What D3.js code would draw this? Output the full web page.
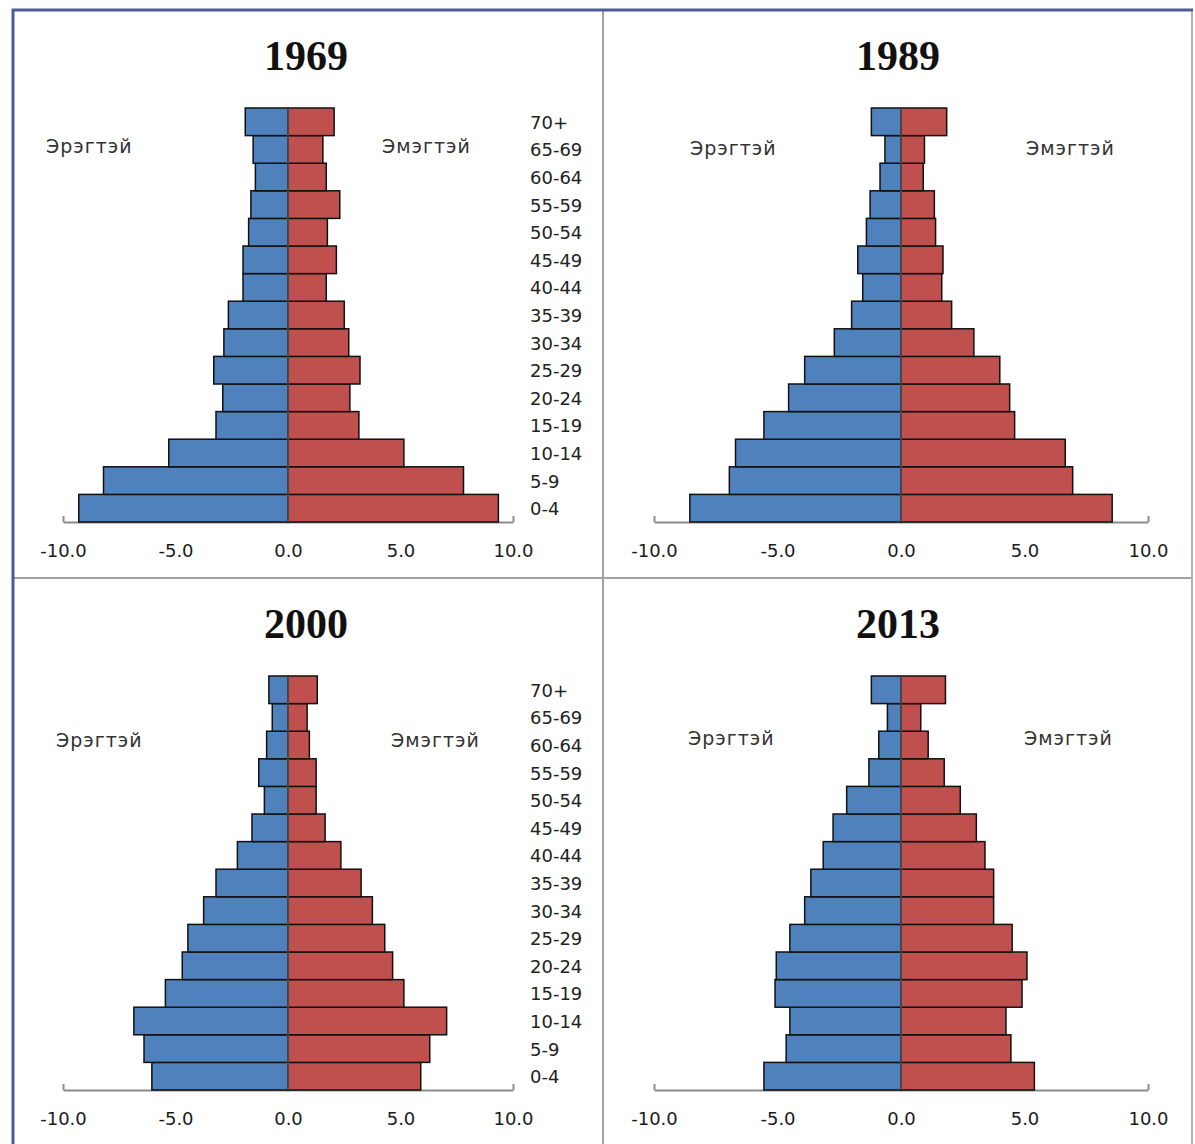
<!DOCTYPE html>
<html>
<head>
<meta charset="utf-8">
<script src="https://cdn.jsdelivr.net/npm/d3@7"></script>
<style>
  body { margin: 0; background: #fff; }
  svg { display: block; }
</style>
</head>
<body>
<div id="chart"></div>
<script>
var SVGWidth = 1195;
var SVGHeight = 1144;

// age groups, youngest first
var ages = ["0-4", "5-9", "10-14", "15-19", "20-24", "25-29", "30-34", "35-39",
            "40-44", "45-49", "50-54", "55-59", "60-64", "65-69", "70+"];

var tickValues = [-10, -5, 0, 5, 10];

// percent of population, same order as ages
var male1969   = [9.3, 8.2, 5.3, 3.2, 2.9, 3.3, 2.85, 2.65, 2.0, 2.0, 1.75, 1.65, 1.45, 1.55, 1.9];
var female1969 = [9.35, 7.8, 5.15, 3.15, 2.75, 3.2, 2.7, 2.5, 1.7, 2.15, 1.75, 2.3, 1.7, 1.55, 2.05];

var male1989   = [8.55, 6.95, 6.7, 5.55, 4.55, 3.9, 2.7, 2.0, 1.55, 1.75, 1.4, 1.25, 0.85, 0.65, 1.2];
var female1989 = [8.55, 6.95, 6.65, 4.6, 4.4, 4.0, 2.95, 2.05, 1.65, 1.7, 1.4, 1.35, 0.9, 0.95, 1.85];

var male2000   = [6.05, 6.4, 6.85, 5.45, 4.7, 4.45, 3.75, 3.2, 2.25, 1.6, 1.05, 1.3, 0.95, 0.7, 0.85];
var female2000 = [5.9, 6.3, 7.05, 5.15, 4.65, 4.3, 3.75, 3.25, 2.35, 1.65, 1.25, 1.25, 0.95, 0.85, 1.3];

var male2013   = [5.55, 4.65, 4.5, 5.1, 5.05, 4.5, 3.9, 3.65, 3.15, 2.75, 2.2, 1.3, 0.9, 0.55, 1.2];
var female2013 = [5.4, 4.45, 4.25, 4.9, 5.1, 4.5, 3.75, 3.75, 3.4, 3.05, 2.4, 1.75, 1.1, 0.8, 1.8];

var maleLabel = "Эрэгтэй";
var femaleLabel = "Эмэгтэй";

var MaleColor = "#4F81BD";
var FemaleColor = "#C0504D";

var svg = d3.select("#chart")
    .append("svg")
        .attr("width", SVGWidth)
        .attr("height", SVGHeight);

svg.append("rect")
    .attr("width", SVGWidth)
    .attr("height", SVGHeight)
    .attr("fill", "#fff");

// frame and dividers between the four panels
svg.append("line").attr("x1", 603).attr("x2", 603).attr("y1", 10).attr("y2", SVGHeight)
    .attr("stroke", "#a0a0a0").attr("stroke-width", 2);
svg.append("line").attr("x1", 13).attr("x2", 1192).attr("y1", 578).attr("y2", 578)
    .attr("stroke", "#a0a0a0").attr("stroke-width", 2);
svg.append("line").attr("x1", 1192).attr("x2", 1192).attr("y1", 10).attr("y2", SVGHeight)
    .attr("stroke", "#b0b0b0").attr("stroke-width", 2);
svg.append("line").attr("x1", 12).attr("x2", 1193).attr("y1", 10).attr("y2", 10)
    .attr("stroke", "#4a5a9c").attr("stroke-width", 3);
svg.append("line").attr("x1", 13).attr("x2", 13).attr("y1", 9).attr("y2", SVGHeight)
    .attr("stroke", "#4a5a9c").attr("stroke-width", 3);

/*
 * Draws one population pyramid.
 * p holds the panel layout: plot left/right, top/bottom, label places.
 */
function drawPyramid(p, year, male, female) {
    var g = svg.append("g");

    var x = d3.scaleLinear()
        .domain([-10, 10])
        .range([p.left, p.right]);

    var y = d3.scaleBand()
        .domain(ages.slice().reverse())
        .range([p.top, p.bottom])
        .padding(0);

    // title
    g.append("text")
        .attr("x", p.titleX)
        .attr("y", p.top - 38)
        .attr("text-anchor", "middle")
        .style("font-family", "'Liberation Serif', 'Times New Roman', serif")
        .style("font-weight", "bold")
        .style("font-size", "42px")
        .style("fill", "#111")
        .text(year);

    // bottom axis
    var axis = g.append("g")
        .attr("transform", "translate(0," + p.bottom + ")")
        .call(d3.axisBottom(x)
            .tickValues(tickValues)
            .tickSizeInner(-6)
            .tickSizeOuter(0)
            .tickPadding(22)
            .tickFormat(d3.format(".1f")));
    axis.select(".domain").attr("stroke", "#8c8c8c").attr("stroke-width", 2);
    axis.selectAll(".tick line").attr("stroke", "#8c8c8c").attr("stroke-width", 2);
    axis.selectAll(".tick text")
        .style("font-family", "'DejaVu Sans', sans-serif")
        .style("font-size", "18px")
        .style("fill", "#1a1a1a")
        .text(function(d) { return d3.format(".1f")(d).replace("−", "-"); });

    // male bars to the left
    g.selectAll(".male")
        .data(male)
        .enter()
        .append("rect")
            .attr("class", "male")
            .attr("x", function(d) { return x(-d); })
            .attr("y", function(d, i) { return y(ages[i]); })
            .attr("width", function(d) { return x(0) - x(-d); })
            .attr("height", y.bandwidth())
            .attr("fill", MaleColor)
            .attr("stroke", "#111")
            .attr("stroke-width", 1.5);

    // female bars to the right
    g.selectAll(".female")
        .data(female)
        .enter()
        .append("rect")
            .attr("class", "female")
            .attr("x", x(0))
            .attr("y", function(d, i) { return y(ages[i]); })
            .attr("width", function(d) { return x(d) - x(0); })
            .attr("height", y.bandwidth())
            .attr("fill", FemaleColor)
            .attr("stroke", "#111")
            .attr("stroke-width", 1.5);

    // zero line
    g.append("line")
        .attr("x1", x(0)).attr("x2", x(0))
        .attr("y1", p.top).attr("y2", p.bottom)
        .attr("stroke", "#555")
        .attr("stroke-width", 1.5);

    // sex labels
    g.append("text")
        .attr("x", p.maleX)
        .attr("y", p.sexY)
        .style("font-family", "'DejaVu Sans', sans-serif")
        .style("font-size", "19px")
        .style("letter-spacing", "1px")
        .style("fill", "#333")
        .text(maleLabel);
    g.append("text")
        .attr("x", p.femaleX)
        .attr("y", p.sexY)
        .style("font-family", "'DejaVu Sans', sans-serif")
        .style("font-size", "19px")
        .style("letter-spacing", "1px")
        .style("fill", "#333")
        .text(femaleLabel);

    // age group labels (left panels only)
    if (p.catX) {
        g.selectAll(".age")
            .data(ages)
            .enter()
            .append("text")
                .attr("class", "age")
                .attr("x", p.catX)
                .attr("y", function(d) { return y(d) + y.bandwidth() / 2 + 7; })
                .style("font-family", "'DejaVu Sans', sans-serif")
                .style("font-size", "18px")
                .style("fill", "#222")
                .text(function(d) { return d; });
    }
}

drawPyramid({left: 63, right: 513, top: 108, bottom: 522, titleX: 306,
             maleX: 46, femaleX: 382, sexY: 153, catX: 530}, "1969", male1969, female1969);
drawPyramid({left: 654, right: 1148, top: 108, bottom: 522, titleX: 898,
             maleX: 690, femaleX: 1026, sexY: 155, catX: null}, "1989", male1989, female1989);
drawPyramid({left: 63, right: 513, top: 676, bottom: 1090, titleX: 306,
             maleX: 56, femaleX: 391, sexY: 747, catX: 530}, "2000", male2000, female2000);
drawPyramid({left: 654, right: 1148, top: 676, bottom: 1090, titleX: 898,
             maleX: 688, femaleX: 1024, sexY: 745, catX: null}, "2013", male2013, female2013);
</script>
</body>
</html>
